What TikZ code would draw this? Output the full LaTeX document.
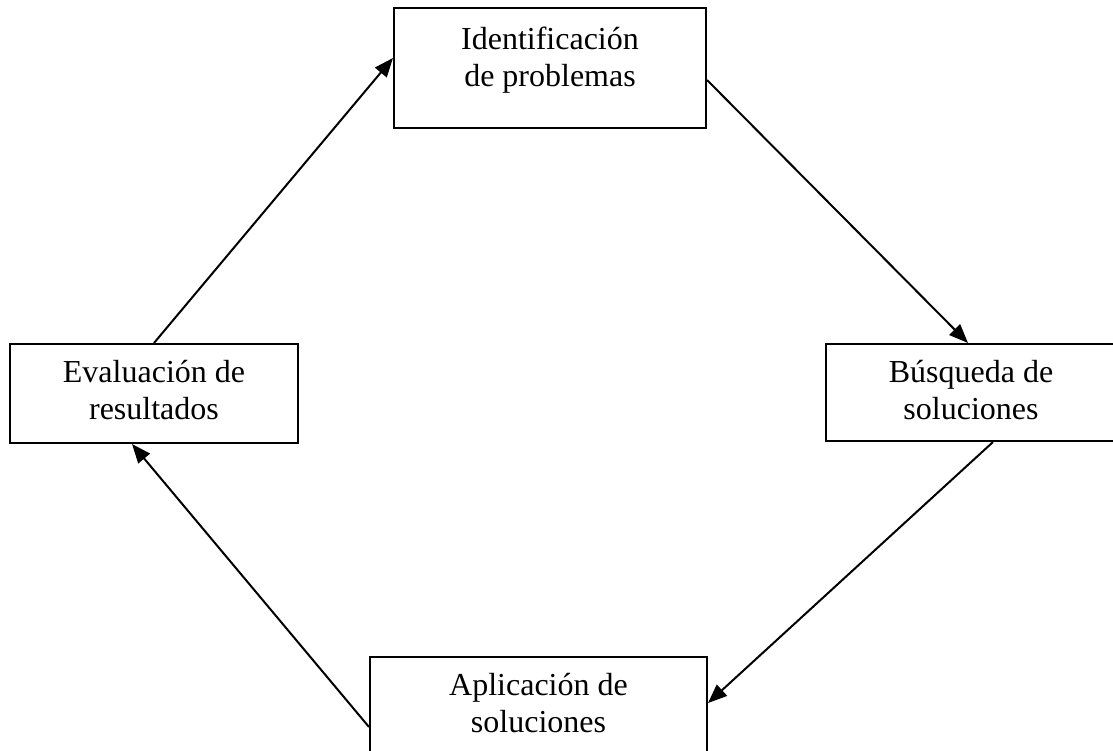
\documentclass[tikz,border=0pt]{standalone}
\usepackage{fontspec}
\setmainfont{Liberation Serif}
\usetikzlibrary{arrows.meta}
\usetikzlibrary{positioning}

\begin{document}
\begin{tikzpicture}[x=1pt,y=-1pt,
		box/.style={draw, line width=2pt, inner sep=0pt},
		lbl/.style={align=center, inner sep=0pt, font=\fontsize{32}{37}\selectfont},
		conn/.style={line width=2pt, -{Triangle[length=19pt,width=15pt]}}]
	% page
	\clip (0,0) rectangle (1113,751);
	% draw boxes
	\node[box, minimum width=312pt, minimum height=120pt] (ident) at (550,68) {};
	\node[box, minimum width=290pt, minimum height=97pt] (busq) at (971,392.5) {};
	\node[box, minimum width=337pt, minimum height=120pt] (aplic) at (538.5,717) {};
	\node[box, minimum width=288pt, minimum height=99pt] (evalu) at (154,393.5) {};
	% add texts
	\node[lbl, below=20pt of ident.north] (identtxt) {Identificación\\de problemas};
	\node[lbl, below=17pt of busq.north] (busqtxt) {Búsqueda de\\soluciones};
	\node[lbl, below=17pt of aplic.north] (aplictxt) {Aplicación de\\soluciones};
	\node[lbl, below=17pt of evalu.north] (evalutxt) {Evaluación de\\resultados};
	% add arrows
	\draw[conn] (evalu.north) -- ([yshift=10pt]ident.west);
	\draw[conn] ([yshift=-12pt]ident.east) -- ([xshift=-3pt]busq.north);
	\draw[conn] ([xshift=22pt]busq.south) -- ([yshift=14pt]aplic.east);
	\draw[conn] ([yshift=-10pt]aplic.west) -- ([xshift=-22pt]evalu.south);
\end{tikzpicture}
\end{document}
